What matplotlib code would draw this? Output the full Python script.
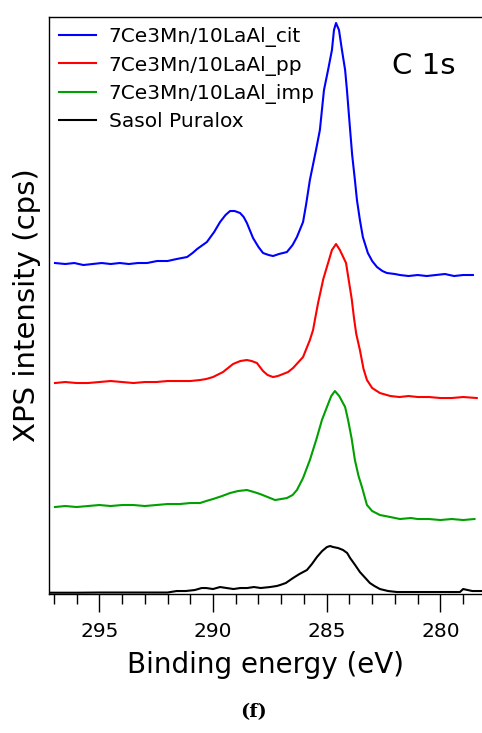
import matplotlib
matplotlib.use("Agg")
import matplotlib.pyplot as plt
from matplotlib.ticker import MultipleLocator, NullLocator

# Binding energy (eV) and intensity (arbitrary cps, stacked)
cit_E = [296.95, 296.5, 296.1, 295.7, 295.3, 294.9, 294.5, 294.1, 293.7, 293.3, 292.9, 292.46,
         292.0, 291.6, 291.14, 290.90, 290.70, 290.27, 289.95, 289.69, 289.45, 289.25, 289.05,
         288.81, 288.65, 288.51, 288.24, 288.0, 287.80, 287.55, 287.36, 287.1, 286.75, 286.5,
         286.31, 286.04, 285.91, 285.74, 285.47, 285.30, 285.12, 284.94, 284.77, 284.68, 284.59,
         284.46, 284.33, 284.19, 284.11, 283.97, 283.88, 283.76, 283.67, 283.54, 283.41, 283.19,
         283.0, 282.79, 282.55, 282.35, 282.0, 281.78, 281.4, 281.0, 280.6, 280.2, 279.8, 279.4,
         279.0, 278.57]
cit_I = [331, 330, 331, 329, 330, 331, 330, 331, 330, 331, 331, 333,
         333, 335, 337, 341, 345, 352, 362, 372, 379, 383, 383,
         381, 377, 371, 356, 347, 341, 339, 338, 340, 342, 349,
         357, 372, 389, 414, 444, 464, 504, 524, 544, 564, 571,
         564, 544, 524, 504, 464, 439, 414, 394, 374, 357, 341,
         333, 327, 323, 321, 320, 319, 318, 319, 318, 319, 320, 318,
         319, 319]

pp_E = [296.95, 296.5, 296.0, 295.5, 295.0, 294.5, 294.0, 293.5, 293.0, 292.5, 292.0, 291.45,
        291.0, 290.57, 290.3, 290.00, 289.56, 289.12, 288.8, 288.51, 288.3, 288.07, 287.80,
        287.6, 287.36, 287.15, 286.92, 286.7, 286.48, 286.04, 285.74, 285.60, 285.52, 285.38,
        285.15, 284.94, 284.77, 284.59, 284.42, 284.15, 283.90, 283.80, 283.70, 283.54, 283.38,
        283.23, 283.0, 282.66, 282.2, 281.8, 281.4, 281.0, 280.5, 280.0, 279.5, 279.0, 278.4]
pp_I = [211, 212, 211, 211, 212, 213, 212, 211, 212, 212, 213, 213,
        213, 214, 215, 217, 222, 230, 233, 234, 233, 231, 223,
        219, 217, 218, 220, 222, 226, 237, 254, 264, 274, 291,
        315, 331, 344, 350, 344, 331, 295, 276, 260, 244, 225,
        214, 206, 201, 198, 197, 198, 197, 197, 196, 196, 197, 196]

imp_E = [296.95, 296.5, 296.0, 295.5, 295.0, 294.5, 294.0, 293.5, 293.0, 292.5, 292.0, 291.45,
         291.0, 290.57, 290.3, 290.00, 289.6, 289.25, 288.9, 288.51, 288.2, 287.93, 287.6,
         287.27, 287.0, 286.75, 286.5, 286.31, 286.04, 285.74, 285.45, 285.21, 284.99, 284.8,
         284.64, 284.45, 284.19, 284.06, 283.9, 283.76, 283.6, 283.45, 283.23, 283.0, 282.66,
         282.2, 281.78, 281.3, 281.0, 280.5, 280.0, 279.5, 279.0, 278.5]
imp_I = [87, 88, 87, 88, 89, 88, 89, 89, 88, 89, 90, 90,
         91, 91, 93, 95, 98, 101, 103, 104, 102, 100, 97,
         94, 95, 96, 99, 104, 116, 134, 155, 174, 187, 198,
         203, 198, 187, 174, 155, 134, 118, 107, 89, 83, 79,
         77, 75, 76, 75, 75, 74, 75, 74, 75]

sas_E = [297.2, 296.0, 295.0, 293.5, 292.0, 291.6, 291.2, 290.8, 290.5, 290.3, 290.0, 289.69,
         289.4, 289.1, 288.8, 288.5, 288.2, 287.9, 287.49, 287.2, 287.05, 286.8, 286.48, 286.2,
         285.87, 285.65, 285.43, 285.2, 284.99, 284.85, 284.72, 284.5, 284.28, 284.1, 283.97,
         283.75, 283.54, 283.3, 283.10, 282.9, 282.66, 282.3, 281.91, 281.0, 280.0, 279.3,
         279.14, 279.0, 278.8, 278.6, 278.4, 278.17]
sas_I = [1.3, 1.3, 1.5, 1.5, 1.5, 3, 3, 4, 6, 6, 5, 7,
         6, 5, 6, 6, 7, 6, 7, 8, 9, 11, 16, 20,
         24, 30, 37, 43, 47, 48, 47, 46, 44, 41, 36,
         29, 22, 16, 11, 8, 5, 3, 2, 2, 2, 2,
         2, 5, 4, 3, 3, 3]

labels = ["7Ce3Mn/10LaAl_cit", "7Ce3Mn/10LaAl_pp", "7Ce3Mn/10LaAl_imp", "Sasol Puralox"]
colors = ["#0000ff", "#ff0000", "#00a000", "#000000"]
xticks = [295, 290, 285, 280]

fig = plt.figure(figsize=(4.82, 7.33), dpi=100)
ax = fig.add_axes([0.1023, 0.1896, 0.8977, 0.7872])

for E, I, lab, c in zip([cit_E, pp_E, imp_E, sas_E], [cit_I, pp_I, imp_I, sas_I], labels, colors):
    ax.plot(E, I, color=c, lw=1.5, label=lab)

ax.set_xlim(297.2, 278.17)
ax.set_ylim(0, 577)
ax.set_xticks(xticks)
ax.xaxis.set_minor_locator(MultipleLocator(1))
ax.yaxis.set_major_locator(NullLocator())
ax.spines['right'].set_visible(False)
for s in ['left', 'top', 'bottom']:
    ax.spines[s].set_linewidth(1.0)
ax.tick_params(axis='x', which='major', direction='out', length=13, width=1.0,
               labelsize=14.5, pad=7)
ax.tick_params(axis='x', which='minor', direction='out', length=7, width=1.0)

ax.set_xlabel("Binding energy (eV)", fontsize=20, labelpad=7)
ax.set_ylabel("XPS intensity (cps)", fontsize=21, labelpad=6)

ax.text(0.793, 0.915, "C 1s", transform=ax.transAxes, fontsize=21, va='center', ha='left')

leg = ax.legend(loc='upper left', frameon=False, fontsize=14.5, handlelength=1.8,
                handletextpad=0.65, labelspacing=0.42, borderpad=0.3, borderaxespad=0.2,
                bbox_to_anchor=(0.0, 1.0))

fig.text(0.525, 0.028, "(f)", fontsize=14, fontweight='bold', family='DejaVu Serif',
         ha='center', va='center')

fig.savefig("out.png", dpi=100)
